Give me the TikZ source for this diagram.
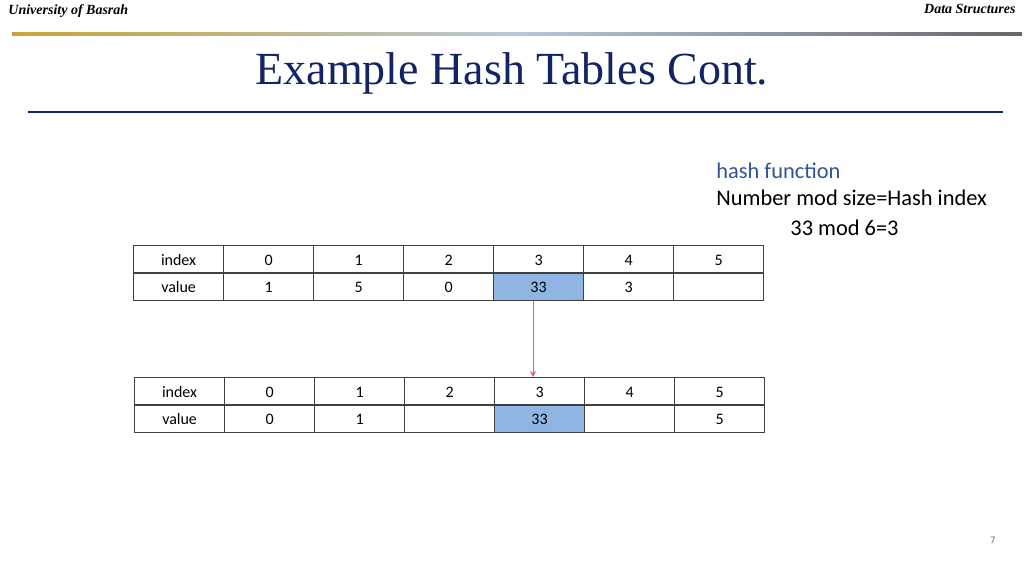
\documentclass[tikz,border=0pt]{standalone}
\usepackage{fontspec}
\setmainfont{Carlito}
\newfontfamily\serifface{Liberation Serif}
\usetikzlibrary{arrows.meta}
\usetikzlibrary{positioning}
\definecolor{titleblue}{rgb}{0.07,0.14,0.40}
\definecolor{rulegold}{rgb}{0.78,0.65,0.20}
\definecolor{rulegray}{rgb}{0.40,0.40,0.42}
\definecolor{rulelight}{rgb}{0.72,0.78,0.85}
\definecolor{cellblue}{rgb}{0.56,0.71,0.89}
\definecolor{hashblue}{rgb}{0.18,0.33,0.59}
\definecolor{arrowred}{rgb}{0.85,0.40,0.40}
\tikzset{
  cell/.style={draw=black!75,line width=0.6pt,minimum width=45pt,minimum height=13.75pt,inner sep=0pt,text height=1.5ex,text depth=0.3ex,font=\fontsize{8}{9}\selectfont,anchor=north west},
  hit/.style={cell,fill=cellblue},
  header/.style={font=\serifface\bfseries\itshape\fontsize{7}{8}\selectfont,inner sep=0pt},
  hashtext/.style={anchor=west,inner sep=0pt,font=\fontsize{11.2}{13}\selectfont}
}
\begin{document}
\begin{tikzpicture}[x=0.5pt,y=-0.5pt,line cap=round,line join=round]
\useasboundingbox (0,0) rectangle (1024,576);
% header
\node[header,anchor=west] (uni) at (8,11) {University of Basrah};
\node[header,anchor=east] (ds) at (1016,9) {Data Structures};
\shade[left color=rulegold,right color=rulegray,middle color=rulelight] (12,33) rectangle (1022,35.5);
\node[font=\serifface\fontsize{23}{26}\selectfont,text=titleblue] (title) at (512,73) {Example Hash Tables Cont.};
\fill[titleblue] (28,111) rectangle (1003,113);
% hash function
\node[hashtext,text=hashblue] (hf) at (716,171) {hash function};
\node[hashtext] (nm) at (716,198) {Number mod size=Hash index};
\node[hashtext] (ex) at (790,228) {33 mod 6=3};
% top table
\node[cell] (a-i) at (133,245) {index};
\node[cell] (a-v) at (133,272.5) {value};
\foreach \k/\v [count=\c from 0] in {0/1,1/5,2/0,3/33,4/3,5/{}} {
  \ifnum\c=3
    \node[cell] (a-i\c) at (223+90*\c,245) {\k};
    \node[hit] (a-v\c) at (223+90*\c,272.5) {\v};
  \else
    \node[cell] (a-i\c) at (223+90*\c,245) {\k};
    \node[cell] (a-v\c) at (223+90*\c,272.5) {\v};
  \fi
}
% bottom table
\node[cell] (b-i) at (134,377) {index};
\node[cell] (b-v) at (134,404.5) {value};
\foreach \k/\v [count=\c from 0] in {0/0,1/1,2/{},3/33,4/{},5/5} {
  \ifnum\c=3
    \node[cell] (b-i\c) at (224+90*\c,377) {\k};
    \node[hit] (b-v\c) at (224+90*\c,404.5) {\v};
  \else
    \node[cell] (b-i\c) at (224+90*\c,377) {\k};
    \node[cell] (b-v\c) at (224+90*\c,404.5) {\v};
  \fi
}
\draw[draw=arrowred,line width=0.4pt,-{Stealth[length=3pt,width=3pt,fill=arrowred]}] (a-v3.south -| 533,0) -- (b-i3.north -| 533,0);
\node[font=\fontsize{5}{6}\selectfont,text=black!60] (pg) at (993,540) {7};
\end{tikzpicture}
\end{document}
